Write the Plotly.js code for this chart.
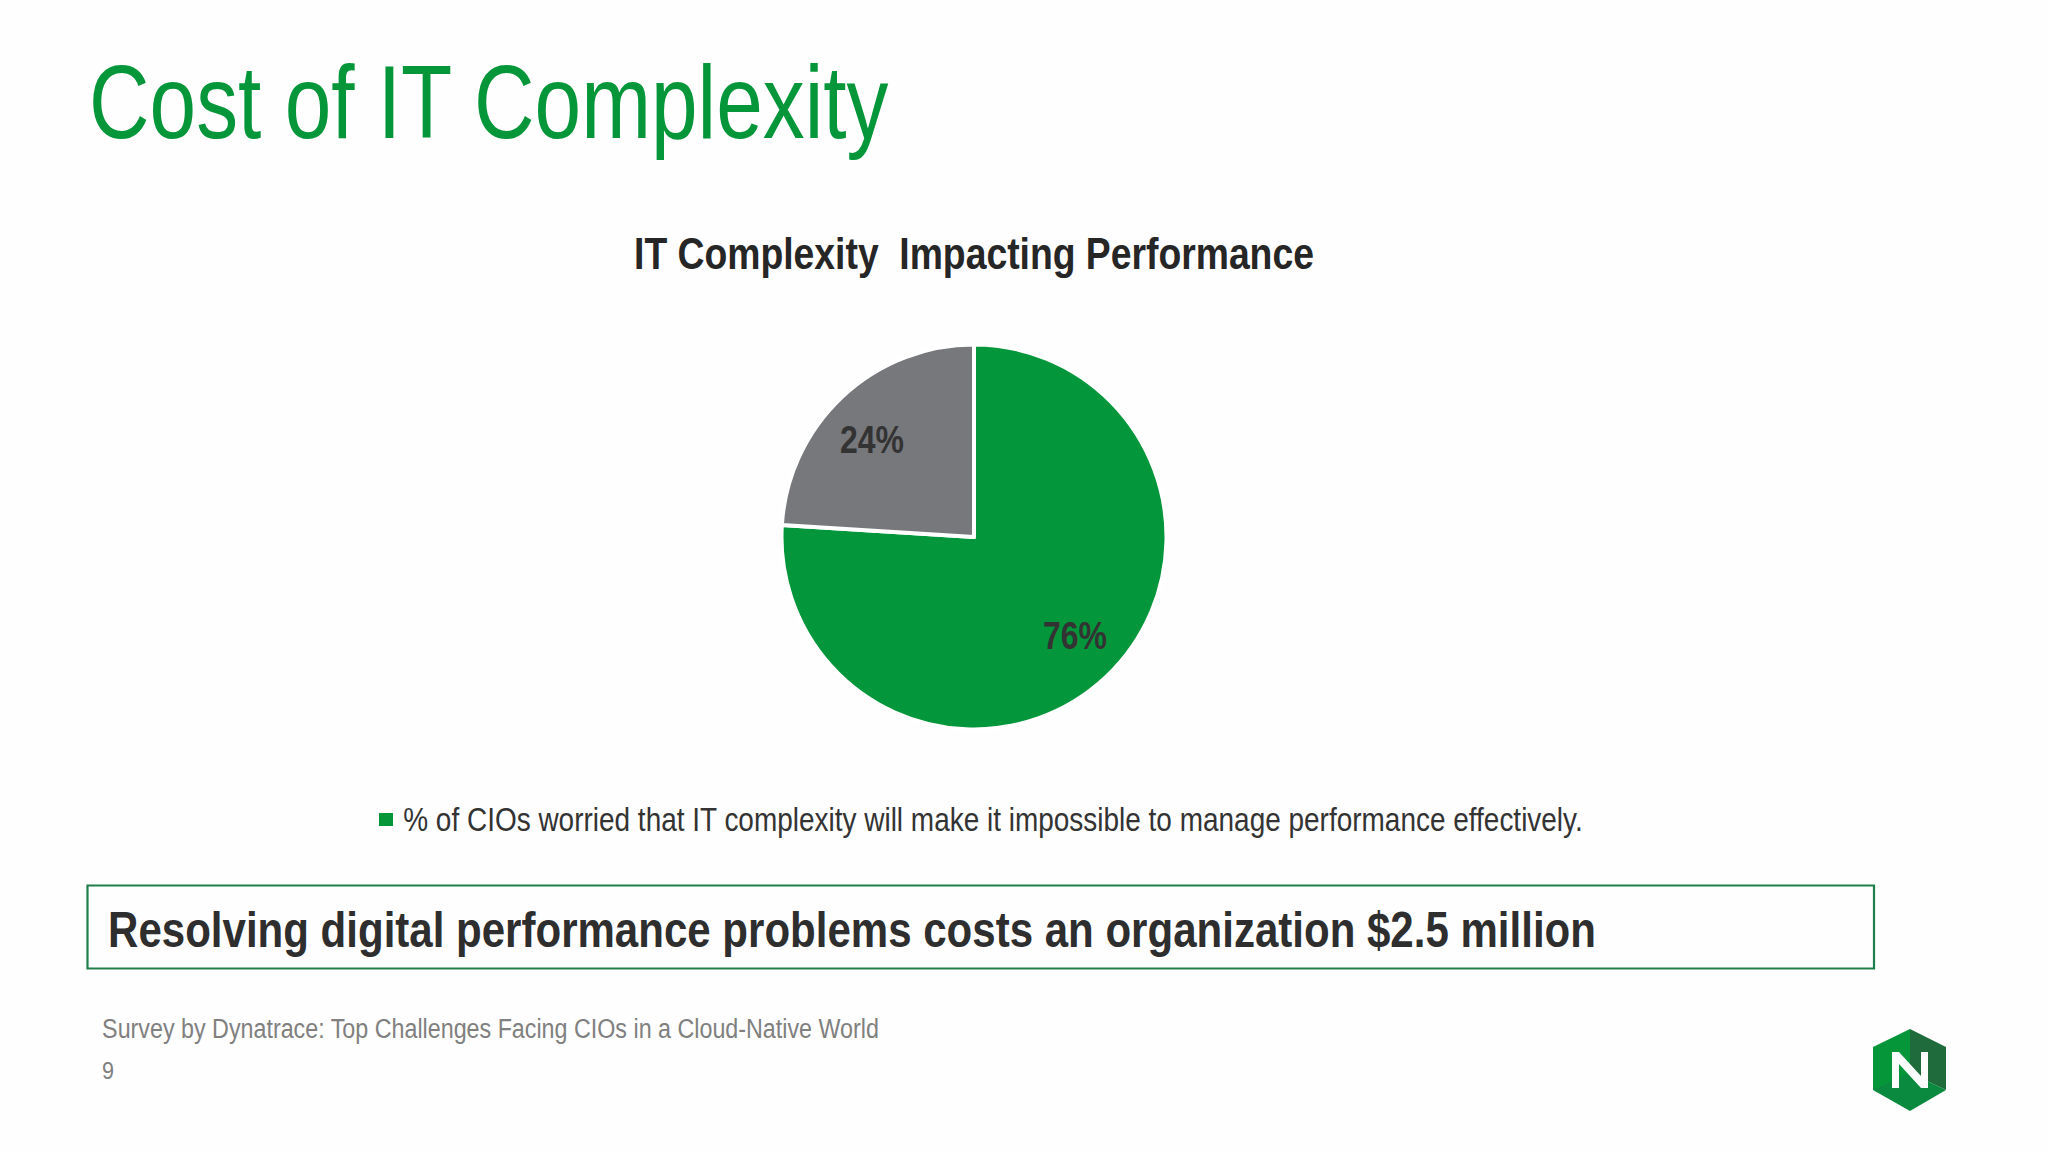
<!DOCTYPE html>
<html><head><meta charset="utf-8">
<script src="https://cdn.plot.ly/plotly-3.0.1.min.js"></script>
<style>html,body{margin:0;padding:0;background:#fff}#c{width:2048px;height:1152px}</style></head>
<body><div id="c"></div>
<script>
const categories = ['% of CIOs worried that IT complexity will make it impossible to manage performance effectively.', 'Other CIOs'];
const sliceValues = [76, 24];
const sliceColors = ['#04963A', '#77787B'];
const pageTitle = 'Cost of IT Complexity';
const chartTitle = 'IT Complexity  Impacting Performance';
const calloutText = 'Resolving digital performance problems costs an organization $2.5 million';
const sourceText = 'Survey by Dynatrace: Top Challenges Facing CIOs in a Cloud-Native World';
const pageNumber = '9';

const W = 2048, H = 1152;
const px = x => x / W, py = y => 1 - y / H;
const FONT = '"Liberation Sans",Arial,sans-serif';
const cx = 974, cy = 537, R = 192.5;

const widths = [];
function note(text, x, y, size, color, anchor, bold, width) {
  widths.push({width, anchor});
  return {text: bold ? '<b>' + text + '</b>' : text, x: px(x), y: py(y), xref: 'paper', yref: 'paper',
    xanchor: anchor, yanchor: 'middle', showarrow: false, borderpad: 0,
    font: {family: FONT, size: size, color: color}};
}
function poly(pts, fill) {
  const d = pts.map((p, i) => (i ? 'L' : 'M') + ' ' + px(p[0]) + ' ' + py(p[1])).join(' ') + ' Z';
  return {type: 'path', xref: 'paper', yref: 'paper', path: d, fillcolor: fill, line: {width: 0}};
}

const annotations = [
  note(pageTitle, 87.5, 103, 103, '#05963A', 'left', false, 800),
  note(chartTitle, 974, 253, 44, '#262626', 'center', true, 680),
  note(sliceValues[1] + '%', 872, 440, 38, '#333333', 'center', true, 64),
  note(sliceValues[0] + '%', 1075, 636, 38, '#333333', 'center', true, 64),
  note(categories[0], 402, 819, 33, '#333333', 'left', false, 1180),
  note(calloutText, 107, 930, 50, '#2E2E2E', 'left', true, 1488),
  note(sourceText, 101, 1029, 27, '#808080', 'left', false, 777),
  note(pageNumber, 101, 1070, 24, '#808080', 'left', false, 12)
];

const shapes = [
  {type: 'rect', xref: 'paper', yref: 'paper', x0: px(87.5), x1: px(1874), y0: py(968.5), y1: py(885.5),
   fillcolor: 'rgba(255,255,255,0)', line: {color: '#1E7F4A', width: 2.2}},
  {type: 'rect', xref: 'paper', yref: 'paper', x0: px(379), x1: px(393), y0: py(826), y1: py(813),
   fillcolor: '#05963A', line: {width: 0}},
  poly([[1910,1029],[1873,1047],[1873,1090],[1910,1090]], '#05963A'),
  poly([[1910,1029],[1946,1047],[1946,1090],[1910,1073]], '#1F6B3C'),
  poly([[1873,1090],[1910,1073],[1946,1090],[1910,1111]], '#0A8A3E'),
  poly([[1892,1052],[1899,1052],[1921,1076],[1921,1052],[1928,1052],[1928,1088],[1921,1088],[1899,1064],[1899,1088],[1892,1088]], '#FAFDFB')
];

const trace = {
  type: 'pie', labels: categories, values: sliceValues, sort: false, direction: 'clockwise', rotation: 0,
  textinfo: 'none', hoverinfo: 'label+percent',
  marker: {colors: sliceColors, line: {color: '#FFFFFF', width: 4}},
  domain: {x: [px(cx - R), px(cx + R)], y: [py(cy + R), py(cy - R)]}
};

Plotly.newPlot('c', [trace], {
  width: W, height: H, margin: {l: 0, r: 0, t: 0, b: 0}, showlegend: false,
  paper_bgcolor: '#FEFEFE', plot_bgcolor: '#FEFEFE',
  annotations, shapes
}, {displayModeBar: false, responsive: false}).then(() => {
  // The reference uses a condensed face: squeeze each text horizontally to its measured width.
  document.querySelectorAll('#c .annotation').forEach((g, i) => {
    const t = g.querySelector('text');
    const r = t.getBoundingClientRect();
    const s = widths[i].width / r.width;
    const x0 = widths[i].anchor === 'center' ? r.left + r.width / 2 : r.left;
    g.setAttribute('transform', `translate(${x0} 0) scale(${s} 1) translate(${-x0} 0)`);
  });
});
</script></body></html>
